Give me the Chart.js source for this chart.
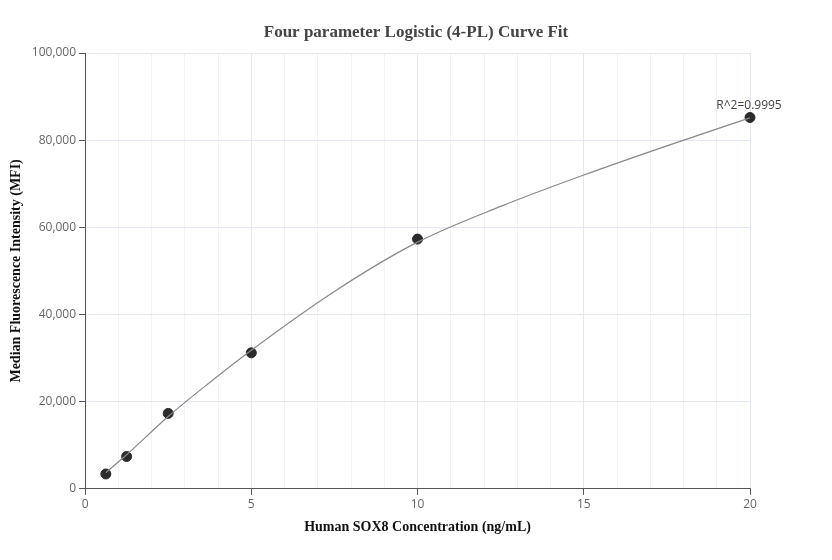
<!DOCTYPE html>
<html>
<head>
<meta charset="utf-8">
<script src="https://cdn.jsdelivr.net/npm/chart.js@4"></script>
<style>
body { margin: 0; background: #fff; }
#wrap { width: 832px; height: 560px; }
</style>
</head>
<body>
<div id="wrap"><canvas id="fitChart"></canvas></div>
<script>
const concentrations = [0.625, 1.25, 2.5, 5, 10, 20];
const mfiValues = [3400, 7400, 17300, 31200, 57300, 85200];

// fitted curve
const curveX = [0.625, 1.25, 2.5, 3.75, 5, 7.5, 10, 12.5, 15, 17.5, 20];
const curveY = [3700, 7800, 16600, 24400, 31800, 45300, 56600, 64800, 72000, 78700, 85100];

const chartTitle = 'Four parameter Logistic (4-PL) Curve Fit';
const rSquaredLabel = 'R^2=0.9995';

const labelPlugin = {
    id: 'rLabel',
    afterDatasetsDraw(chart) {
        const ctx = chart.ctx;
        const pt = chart.getDatasetMeta(1).data[concentrations.length - 1];
        ctx.save();
        ctx.font = '12px "Open Sans", sans-serif';
        ctx.fillStyle = '#444';
        ctx.textAlign = 'center';
        ctx.fillText(rSquaredLabel, pt.x - 1, pt.y - 8);
        // title centred on the whole canvas
        ctx.font = 'bold 17px "Liberation Serif", serif';
        ctx.fillStyle = '#444';
        ctx.textBaseline = 'middle';
        ctx.fillText(chartTitle, chart.width / 2, 33);
        ctx.restore();
    }
};

new Chart(document.getElementById('fitChart'), {
    type: 'scatter',
    data: {
        datasets: [
            {
                data: curveX.map((x, i) => ({ x: x, y: curveY[i] })),
                showLine: true,
                borderColor: '#888',
                borderWidth: 1.2,
                pointRadius: 0,
                tension: 0.4,
                cubicInterpolationMode: 'monotone'
            },
            {
                data: concentrations.map((x, i) => ({ x: x, y: mfiValues[i] })),
                backgroundColor: '#2b2b2b',
                borderColor: '#2b2b2b',
                pointRadius: 5,
                clip: false
            }
        ]
    },
    options: {
        responsive: true,
        maintainAspectRatio: false,
        animation: false,
        layout: { padding: { left: 4, right: 82, top: 53, bottom: 20 } },
        plugins: {
            legend: { display: false },
            tooltip: { enabled: false },
            title: { display: false }
        },
        scales: {
            x: {
                type: 'linear',
                min: 0,
                max: 20,
                border: { color: '#555' },
                ticks: {
                    stepSize: 1,
                    color: '#666',
                    font: { family: 'Open Sans', size: 12 },
                    callback: v => (v % 5 === 0 ? v : '')
                },
                grid: {
                    color: c => (c.tick.value % 5 === 0 ? '#e4e8f2' : '#f1f3f8'),
                    tickColor: c => (c.tick.value % 5 === 0 ? '#555' : 'rgba(0,0,0,0)'),
                    tickLength: 6
                },
                title: {
                    display: true,
                    text: 'Human SOX8 Concentration (ng/mL)',
                    color: '#111',
                    font: { family: 'Liberation Serif', size: 14, weight: 'bold' }
                }
            },
            y: {
                min: 0,
                max: 100000,
                border: { color: '#555' },
                ticks: {
                    stepSize: 20000,
                    color: '#666',
                    font: { family: 'Open Sans', size: 12 },
                    callback: v => v.toLocaleString('en-US')
                },
                grid: { color: '#e4e8f2', tickColor: '#555', tickLength: 6 },
                title: {
                    display: true,
                    text: 'Median Fluorescence Intensity (MFI)',
                    color: '#111',
                    font: { family: 'Liberation Serif', size: 14, weight: 'bold' }
                }
            }
        }
    },
    plugins: [labelPlugin]
});
</script>
</body>
</html>
